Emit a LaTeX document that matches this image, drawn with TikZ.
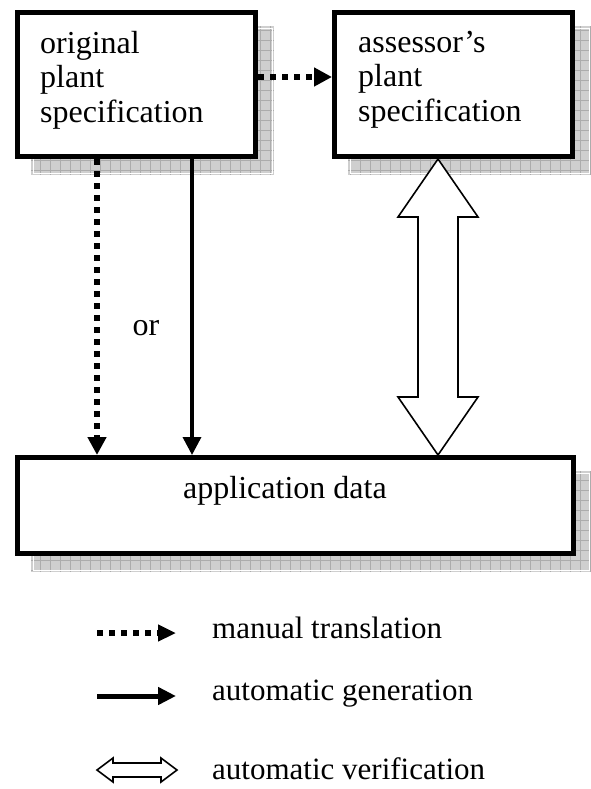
\documentclass[tikz,border=0pt]{standalone}
\usepackage{fontspec}
\setmainfont{Liberation Serif}
\usetikzlibrary{arrows.meta,calc}
\newcommand\mkshadow[4]{%
  \fill[shadefill] (#1,#2) rectangle (#3,#4);
  \begin{scope}
    \clip (#1,#2) rectangle (#3,#4);
    \draw[shadegrid] (#1,#2) grid[step=10pt] (#3,#4);
  \end{scope}
  \draw[white, line width=0.8pt] (#1+2,#2+2) rectangle (#3-2,#4-2);
}
\begin{document}
\begin{tikzpicture}[x=1pt,y=-1pt,
  shadefill/.style={fill=gray!38},
  shadegrid/.style={draw=gray!65, line width=0.6pt},
  boxnode/.style={draw=black, line width=5pt, fill=white, inner sep=0pt},
  boxtext/.style={inner sep=0pt, align=left, font=\fontsize{32}{34.5}\selectfont},
  legtext/.style={inner sep=0pt, anchor=base west, font=\fontsize{31}{34}\selectfont},
  dotarrow/.style={line width=6pt, dash pattern=on 6pt off 6pt,
    -{Triangle[length=18pt,width=18pt]}},
  solidarrow/.style={line width=3.5pt, -{Triangle[length=18pt,width=18pt]}},
  hollow/.style={draw=black, line width=1.6pt, fill=white, line join=miter}
]
\useasboundingbox (0,0) rectangle (591,789);

% shadows
\mkshadow{31}{26}{274}{175}
\mkshadow{348}{26}{591}{175}
\mkshadow{31}{471}{591}{572}

% boxes
\node[boxnode, minimum width=238pt, minimum height=144pt] (b1) at (136.5,84.5) {};
\node[boxnode, minimum width=238pt, minimum height=144pt] (b2) at (453.5,84.5) {};
\node[boxnode, minimum width=556pt, minimum height=96pt] (b3) at (295.5,505.5) {};

\node[boxtext, anchor=north west] (t1) at (40,31) {original\\plant\\specification};
\node[boxtext, anchor=north west] (t2) at (358,31) {assessor’s\\plant\\specification};
\node[boxtext, anchor=base west] (t3) at (183,498) {application data};

\node[boxtext, anchor=base] (orlabel) at (146,335) {or};

% connectors
\coordinate (xd) at (97,0);
\coordinate (xs) at (192,0);
\coordinate (xv) at (438,0);

\draw[dotarrow] ([yshift=7.5pt]b1.east) -- ([yshift=7.5pt]b2.west);
\draw[dotarrow] (xd |- b1.south) -- (xd |- b3.north);
\draw[solidarrow] (xs |- b1.south) -- (xs |- b3.north);

\coordinate (vt) at (xv |- b2.south);
\coordinate (vb) at (xv |- b3.north);
\draw[hollow] (vt) -- ++(40,58) -- ++(-20,0) -- ($(vb)+(20,-58)$) -- ++(20,0)
  -- (vb) -- ++(-40,-58) -- ++(20,0) -- ($(vt)+(-20,58)$) -- ++(-20,0) -- cycle;

% legend
\coordinate (l1a) at (97,633);
\coordinate (l1b) at (176,633);
\coordinate (l2a) at (97,696);
\coordinate (l2b) at (176,696);
\coordinate (l3a) at (97,770);
\coordinate (l3b) at (177,770);

\draw[line width=6pt, dash pattern=on 6pt off 6pt,
  -{Triangle[length=18pt,width=16pt]}] (l1a) -- (l1b);
\draw[line width=5pt, -{Triangle[length=18pt,width=17pt]}] (l2a) -- (l2b);
\draw[hollow] (l3a) -- ++(16,-12) -- ++(0,5) -- ($(l3b)+(-16,-7)$) -- ++(0,-5)
  -- (l3b) -- ++(-16,12) -- ++(0,-5) -- ($(l3a)+(16,7)$) -- ++(0,5) -- cycle;

\node[legtext] (lt1) at (212,638) {manual translation};
\node[legtext] (lt2) at (212,700) {automatic generation};
\node[legtext] (lt3) at (212,779) {automatic verification};
\end{tikzpicture}
\end{document}
